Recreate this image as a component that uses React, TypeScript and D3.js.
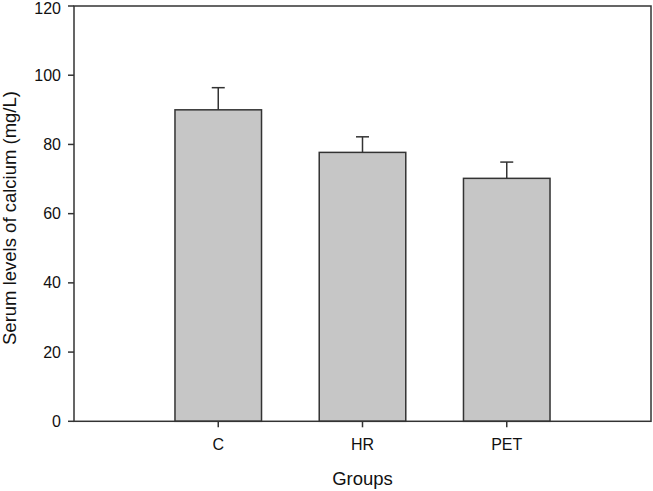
import React from "react";
import * as d3 from "d3";

const categories = ["C", "HR", "PET"];
const means = [90, 77.7, 70.2];
const errors = [6.4, 4.5, 4.7];
const yTicks = [0, 20, 40, 60, 80, 100, 120];

export default function App() {
  const W = 653, H = 491;
  const left = 74, right = 651, top = 6, bottom = 421.3;
  const x = d3.scaleLinear().domain([0, categories.length + 1]).range([left, right]);
  const y = d3.scaleLinear().domain([0, 120]).range([bottom, top]);
  const bw = x(0.6) - x(0);
  const font = "Arial, 'Liberation Sans', sans-serif";
  const stroke = "#333";
  return (
    <svg width={W} height={H} style={{ position: "absolute", left: 0, top: 0, background: "#fff" }} fontFamily={font}>
      {categories.map((c, i) => {
        const cx = x(i + 1);
        return (
          <g key={c}>
            <line x1={cx} x2={cx} y1={y(means[i])} y2={y(means[i] + errors[i])} stroke={stroke} strokeWidth={1.5} />
            <line x1={cx - 6.5} x2={cx + 6.5} y1={y(means[i] + errors[i])} y2={y(means[i] + errors[i])} stroke={stroke} strokeWidth={1.5} />
            <rect x={cx - bw / 2} y={y(means[i])} width={bw} height={y(0) - y(means[i])} fill="#c6c6c6" stroke={stroke} strokeWidth={1.5} />
            <line x1={cx} x2={cx} y1={bottom} y2={bottom + 6} stroke={stroke} strokeWidth={1.5} />
            <text x={cx} y={bottom + 29} textAnchor="middle" fontSize={16} fill="#111">{c}</text>
          </g>
        );
      })}
      <rect x={left} y={top} width={right - left} height={bottom - top} fill="none" stroke={stroke} strokeWidth={1.5} />
      {yTicks.map((t) => (
        <g key={t}>
          <line x1={left - 6} x2={left} y1={y(t)} y2={y(t)} stroke={stroke} strokeWidth={1.5} />
          <text x={left - 13} y={Math.max(y(t) + 5.5, 13.5)} textAnchor="end" fontSize={16} fill="#111">{t}</text>
        </g>
      ))}
      <text x={x(2)} y={485} textAnchor="middle" fontSize={18.5} fill="#111">Groups</text>
      <text transform={`translate(16, 218) rotate(-90)`} textAnchor="middle" fontSize={18.5} fill="#111">Serum levels of calcium (mg/L)</text>
    </svg>
  );
}
